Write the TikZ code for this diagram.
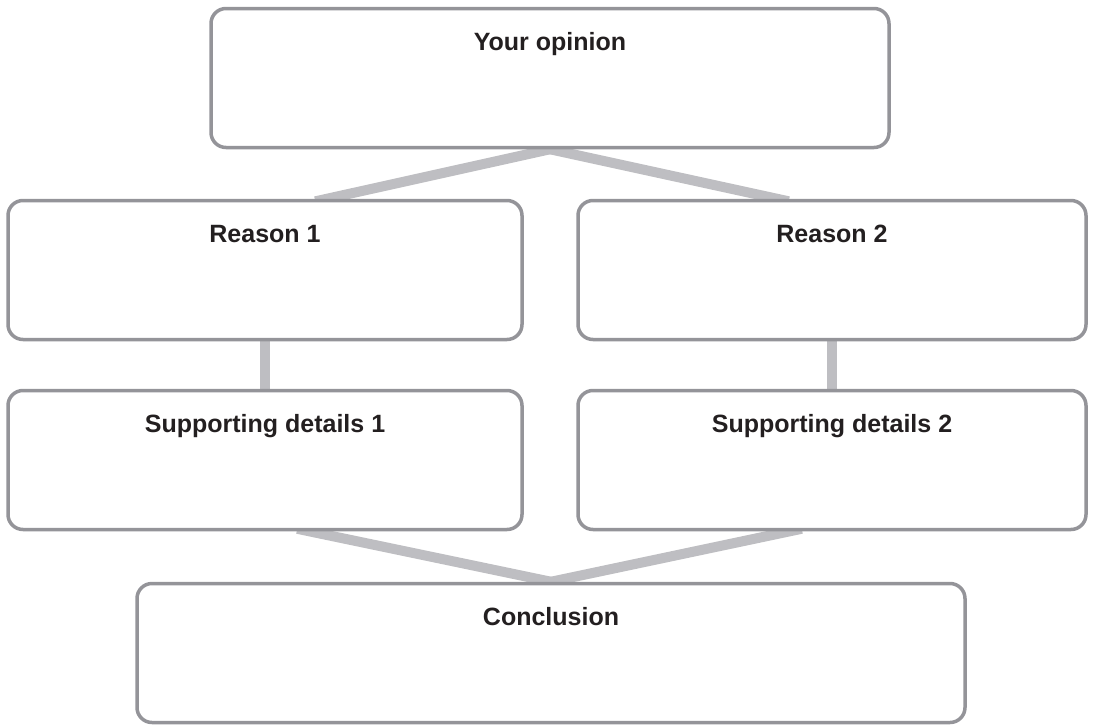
\documentclass[tikz,border=0pt]{standalone}
\usepackage{fontspec}
\setmainfont{Liberation Sans}
\usepackage{tikz}
\usetikzlibrary{positioning,backgrounds}
\definecolor{boxgray}{RGB}{148,148,153}
\definecolor{linkgray}{RGB}{190,190,194}
\definecolor{inkblack}{RGB}{35,31,32}
\tikzstyle{block} = [rectangle, draw=boxgray, line width=3.5pt, fill=white,
    rounded corners=15pt, text=inkblack, font=\bfseries\fontsize{25}{30}\selectfont,
    inner xsep=0pt, inner ysep=24pt, text height=18pt, text depth=73pt]
\tikzstyle{link} = [draw=linkgray, line width=10pt, shorten <=-12pt, shorten >=-12pt]

\begin{document}
\begin{tikzpicture}[x=1pt, y=-1pt]
  \useasboundingbox (0,0) rectangle (1093,726);
  % Place nodes
  \node [block, minimum width=678pt] (opinion) at (550,78) {Your opinion};
  \node [block, minimum width=514pt] (reason1) at (265,270) {Reason 1};
  \node [block, minimum width=508pt] (reason2) at (832,270) {Reason 2};
  \node [block, minimum width=514pt] (details1) at (265,460) {Supporting details 1};
  \node [block, minimum width=508pt] (details2) at (832,460) {Supporting details 2};
  \node [block, minimum width=828pt] (conclusion) at (551,653) {Conclusion};
  % Draw edges
  \begin{pgfonlayer}{background}
  \draw [link] (opinion.south) -- ([xshift=62pt]reason1.north);
  \draw [link] (opinion.south) -- ([xshift=-55pt]reason2.north);
  \draw [link] (reason1.south) -- (details1.north);
  \draw [link] (reason2.south) -- (details2.north);
  \draw [link] ([xshift=44pt]details1.south) -- (conclusion.north);
  \draw [link] ([xshift=-42pt]details2.south) -- (conclusion.north);
  \end{pgfonlayer}
\end{tikzpicture}
\end{document}
